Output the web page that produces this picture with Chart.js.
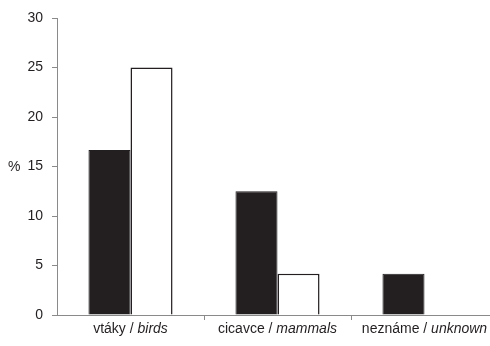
<!DOCTYPE html>
<html>
<head>
<meta charset="utf-8">
<script src="https://cdn.jsdelivr.net/npm/chart.js@4/dist/chart.umd.min.js"></script>
<style>
  html, body { margin: 0; padding: 0; background: #fff; overflow: hidden; }
  #wrap { position: relative; width: 498px; height: 346px; }
</style>
</head>
<body>
<div id="wrap"><canvas id="chart"></canvas></div>
<script>
// Data
const categoriesSk = ['vtáky', 'cicavce', 'neznáme'];
const categoriesEn = ['birds', 'mammals', 'unknown'];
const seriesBlack = [16.67, 12.5, 4.17];
const seriesWhite = [25, 4.17, 0];
const yTicks = [0, 5, 10, 15, 20, 25, 30];

const ink = '#231f20';
const axisGrey = '#8a8a8a';
const fontFamily = '"Liberation Sans", Arial, sans-serif';

// draws category boundary ticks, the two-style category labels and the "%" title
const labelPlugin = {
    id: 'labels',
    afterDraw(chart) {
        const ctx = chart.ctx;
        const xScale = chart.scales.x;
        const area = chart.chartArea;
        ctx.save();

        // short tick marks between categories
        const half = (xScale.getPixelForValue(1) - xScale.getPixelForValue(0)) / 2;
        ctx.strokeStyle = axisGrey;
        ctx.lineWidth = 1;
        for (let i = 1; i < categoriesSk.length; i++) {
            const x = Math.round(xScale.getPixelForValue(i) - half) + 0.5;
            ctx.beginPath();
            ctx.moveTo(x, area.bottom);
            ctx.lineTo(x, area.bottom + 5);
            ctx.stroke();
        }

        ctx.fillStyle = ink;
        ctx.textBaseline = 'alphabetic';
        categoriesSk.forEach((sk, i) => {
            const normal = sk + ' / ';
            const italic = categoriesEn[i];
            ctx.font = '14px ' + fontFamily;
            const w1 = ctx.measureText(normal).width;
            ctx.font = 'italic 14px ' + fontFamily;
            const w2 = ctx.measureText(italic).width;
            const cx = xScale.getPixelForValue(i);
            const x0 = cx - (w1 + w2) / 2;
            ctx.textAlign = 'left';
            ctx.font = '14px ' + fontFamily;
            ctx.fillText(normal, x0, 333);
            ctx.font = 'italic 14px ' + fontFamily;
            ctx.fillText(italic, x0 + w1, 333);
        });
        ctx.font = '14px ' + fontFamily;
        ctx.textBaseline = 'middle';
        ctx.textAlign = 'left';
        ctx.fillText('%', 8, (area.top + area.bottom) / 2 + 1);
        ctx.restore();
    }
};

new Chart(document.getElementById('chart').getContext('2d'), {
    type: 'bar',
    data: {
        labels: categoriesSk,
        datasets: [{
            data: seriesBlack,
            backgroundColor: ink,
            borderColor: ink,
            borderWidth: 1,
            categoryPercentage: 0.572,
            barPercentage: 1
        }, {
            data: seriesWhite,
            backgroundColor: '#ffffff',
            borderColor: ink,
            borderWidth: 1.5,
            categoryPercentage: 0.572,
            barPercentage: 1
        }]
    },
    options: {
        responsive: true,
        maintainAspectRatio: false,
        animation: false,
        events: [],
        layout: { padding: { top: 18, right: 0, bottom: 0, left: 0 } },
        plugins: {
            legend: { display: false },
            tooltip: { enabled: false }
        },
        scales: {
            x: {
                grid: { display: false },
                border: { display: true, color: axisGrey, width: 1 },
                ticks: { display: false },
                afterFit(scale) { scale.height = 31; }
            },
            y: {
                min: 0,
                max: 30,
                afterBuildTicks(scale) { scale.ticks = yTicks.map(v => ({ value: v })); },
                grid: {
                    drawOnChartArea: false,
                    drawTicks: true,
                    tickLength: 5,
                    color: axisGrey
                },
                border: { color: axisGrey, width: 1 },
                ticks: {
                    color: ink,
                    padding: 9,
                    font: { size: 14, family: fontFamily }
                },
                afterFit(scale) { scale.width = 57; }
            }
        }
    },
    plugins: [labelPlugin]
});
</script>
</body>
</html>
